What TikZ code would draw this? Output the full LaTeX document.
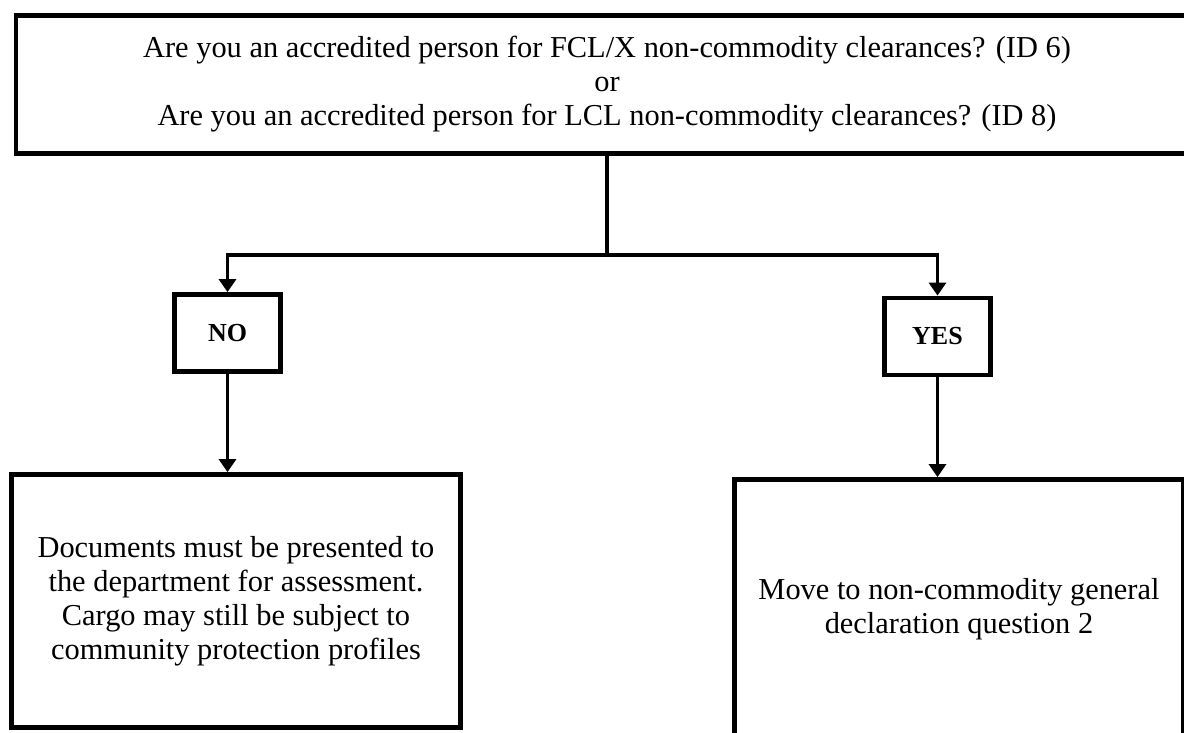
\documentclass[tikz,border=0pt]{standalone}
\usepackage{fontspec}
\setmainfont{Liberation Serif}
\usetikzlibrary{positioning}
\usetikzlibrary{arrows, shapes, arrows.meta}
\tikzstyle{box} = [rectangle, draw=black, line width=2.4pt, align=center, text centered, inner sep=0pt, font=\fontsize{15.2}{17}\selectfont]
\tikzstyle{answer} = [box, minimum width=53pt, minimum height=38.5pt, font=\fontsize{13}{17}\selectfont\bfseries]
\tikzstyle{outcome} = [box, minimum width=224.5pt, minimum height=126.5pt]
\tikzstyle{line} = [line width=1.6pt]
\tikzstyle{arrow} = [line width=1.6pt, -{Triangle[width=8.5pt,length=6.5pt]}]

\begin{document}
\begin{tikzpicture}[x=0.5pt,y=-0.5pt]
    \useasboundingbox (0,0) rectangle (1184,733);
    \node[box, minimum width=591pt, minimum height=69pt] (Q) at (607,84.5) {Are you an accredited person for FCL/X non-commodity clearances? (ID 6)\\or\\Are you an accredited person for LCL non-commodity clearances? (ID 8)};
    \node[answer] (N) at (227.5,333) {NO};
    \node[answer] (Y) at (937.5,336.5) {YES};
    \node[outcome] (D) at (236,601) {Documents must be presented to\\the department for assessment.\\Cargo may still be subject to\\community protection profiles};
    \node[outcome, minimum height=129.5pt] (M) at (959,609) {Move to non-commodity general\\declaration question 2};
    \coordinate (fork) at (607,255);
    \draw[line] (Q) -- (fork);
    \draw[arrow] (fork) -| (N.north);
    \draw[arrow] (fork) -| (Y.north);
    \draw[arrow] (N) -- (N.south |- D.north);
    \draw[arrow] (Y) -- (Y.south |- M.north);
\end{tikzpicture}
\end{document}
